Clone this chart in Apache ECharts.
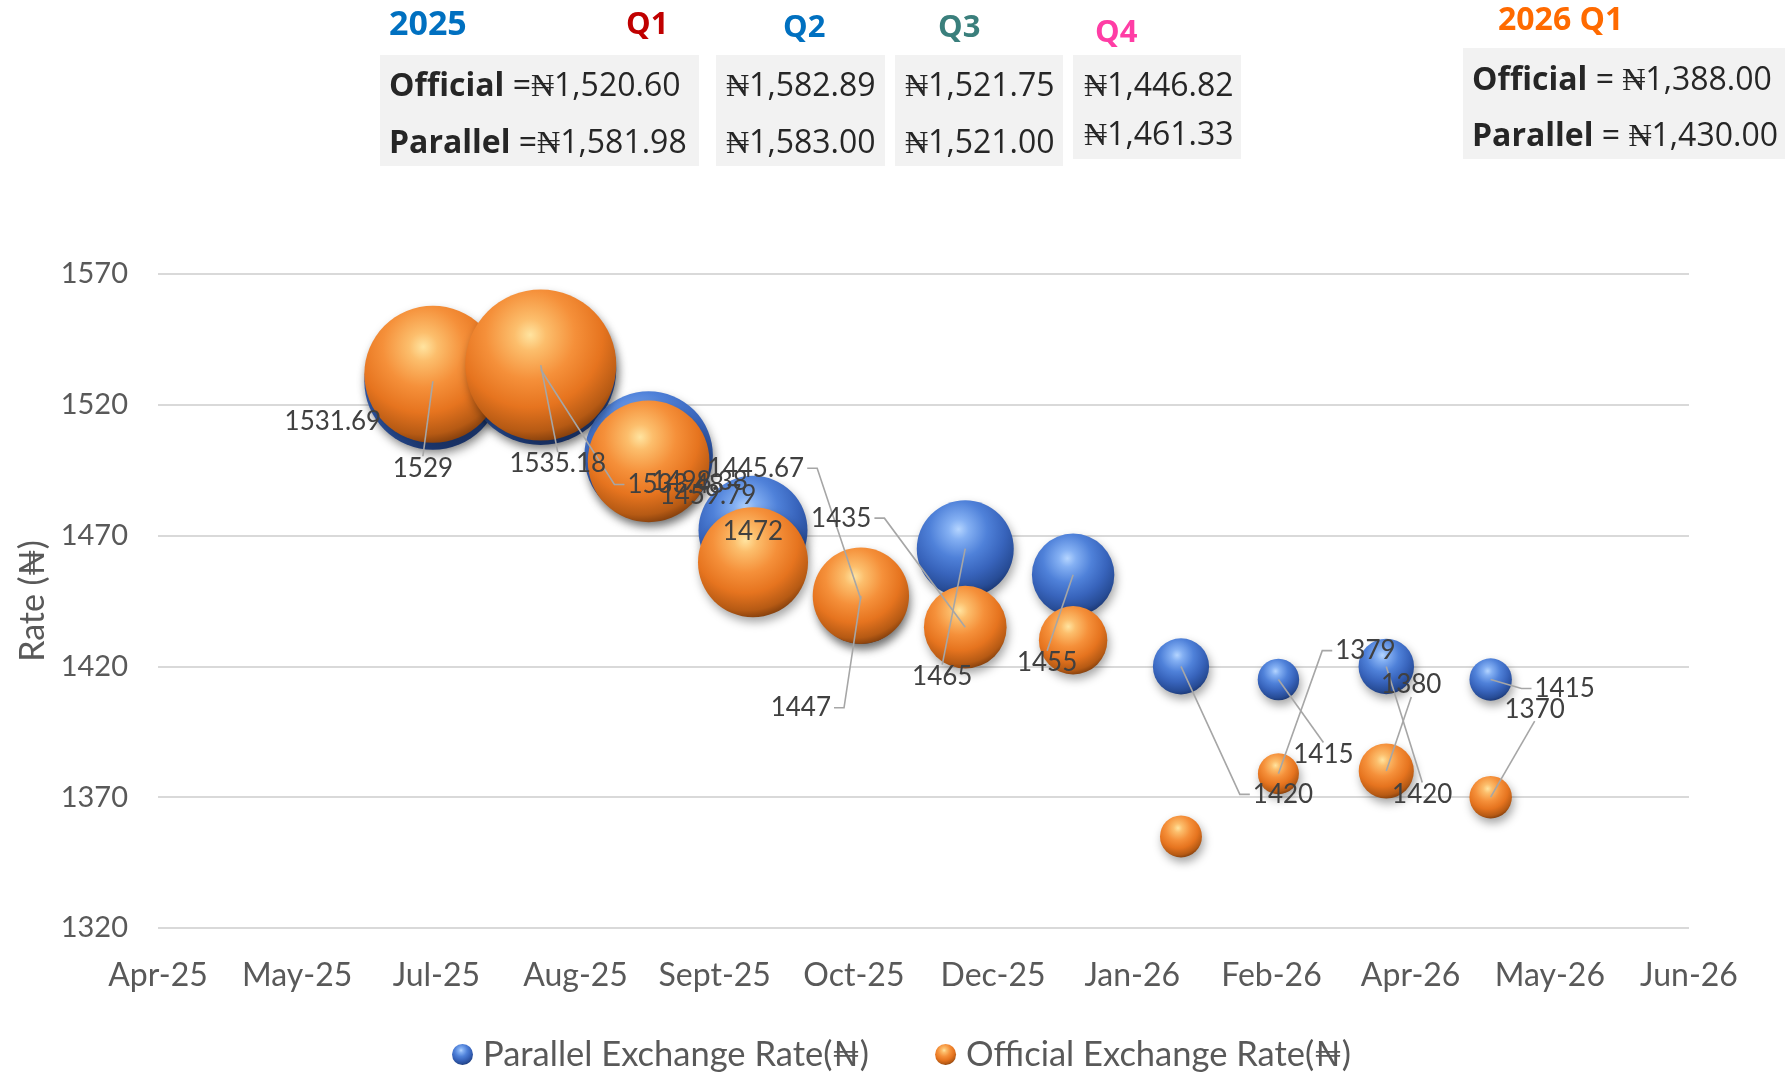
<!DOCTYPE html>
<html><head><meta charset="utf-8">
<style>html,body{margin:0;padding:0;background:#fff;} #chart{width:1785px;height:1073px;}</style>
<script src="https://cdn.jsdelivr.net/npm/echarts@6/dist/echarts.min.js"></script>
</head><body><div id="chart"></div>
<script>
// ---- data ----
const tickLabels = ['Apr-25','May-25','Jul-25','Aug-25','Sept-25','Oct-25','Dec-25','Jan-26','Feb-26','Apr-26','May-26','Jun-26'];
const axisStart = '2025-04-13';
const tickDays = 40;
const dates = ['2025-07-01','2025-08-01','2025-09-01','2025-10-01','2025-11-01','2025-12-01','2026-01-01','2026-02-01','2026-03-01','2026-04-01','2026-05-01'];
const parallelRate = [1529, 1533.48, 1500.6, 1472, 1445.67, 1465, 1455, 1420, 1415, 1420, 1415];
const officialRate = [1531.69, 1535.18, 1498.38, 1459.79, 1447, 1435, 1430, 1355, 1379, 1380, 1370];
const parallelSize = [47, 57, 41.3, 29.7, 20, 23.5, 17, 7.9, 4.3, 7.7, 4.5];
const officialSize = [47, 57, 37, 30.25, 23.2, 17.1, 11.7, 4.4, 4.2, 7.6, 4.5];
const parallelLabelled = [1,1,0,1,1,1,1,1,1,1,1];
const officialLabelled = [1,1,1,1,1,1,0,0,1,1,1];
const yTicks = {min:1320, max:1570, step:50};

const quarterHeads = ['Q1','Q2','Q3','Q4'];
const official2025 = ['₦1,520.60','₦1,582.89','₦1,521.75','₦1,446.82'];
const parallel2025 = ['₦1,581.98','₦1,583.00','₦1,521.00','₦1,461.33'];
const official2026Q1 = '₦1,388.00';
const parallel2026Q1 = '₦1,430.00';

// ---- label placement (styling, px offsets from bubble centre) ----
const parallelLeader = [1,1,0,0,1,1,1,1,1,1,1];
const officialLeader = [0,1,0,0,1,1,0,0,1,1,1];
const parallelShift = [[-10,87],[135,115],null,[0,1],[-105,-131],[-23,128],[-26,88],[102,128],[45,75],[36,128],[74,9]];
const officialShift = [[-100,47],[17,99],[51,20],[-45,-67],[-60,112],[-124,-109],null,null,[87,-123],[25,-86],[44,-88]];

function dayOffset(d){ return (Date.parse(d) - Date.parse(axisStart)) / 86400000; }

const orangeGrad = {type:'radial', x:0.43, y:0.3, r:0.8, colorStops:[
  {offset:0, color:'#FFE4A0'},{offset:0.13, color:'#FCBE6C'},{offset:0.37, color:'#F5903A'},
  {offset:0.6, color:'#E6741F'},{offset:0.8, color:'#B65A14'},{offset:1, color:'#4A2004'}]};
const blueGrad = {type:'radial', x:0.43, y:0.3, r:0.8, colorStops:[
  {offset:0, color:'#B5D5FF'},{offset:0.13, color:'#84B0F3'},{offset:0.37, color:'#4F81D9'},
  {offset:0.6, color:'#3864BC'},{offset:0.8, color:'#274C96'},{offset:1, color:'#0E2150'}]};

const LABEL_FONT = 26;
const measureCtx = document.createElement('canvas').getContext('2d');
function textWidth(t){ measureCtx.font = LABEL_FONT + 'px Lato'; return measureCtx.measureText(t).width; }

function bubbleSeries(name, rates, sizes, grad){
  return {
    name: name, type:'scatter', z:2,
    data: dates.map((d,i)=>[dayOffset(d), rates[i], sizes[i]]),
    symbolSize: v => Math.sqrt(v[2]) * 20,
    itemStyle:{color: grad, opacity:1, shadowBlur:10, shadowColor:'rgba(0,0,0,0.35)', shadowOffsetX:2, shadowOffsetY:5},
    emphasis:{disabled:true}
  };
}

function labelSeries(name, rates, lbl, leader, shifts){
  return {
    name: name, type:'custom', z:10, silent:true, clip:false,
    data: dates.map((d,i)=>[dayOffset(d), rates[i]]),
    renderItem: function(params, api){
      const i = params.dataIndex;
      const s = shifts[i];
      if (!lbl[i] || !s) return {type:'group', children:[]};
      const c = api.coord([api.value(0), api.value(1)]);
      const text = String(api.value(1));
      const w = textWidth(text), h = LABEL_FONT;
      const mx = c[0] + s[0], my = c[1] + s[1];
      const lx = mx - w/2, ly = my - h/2;
      const children = [];
      if (leader[i]) {
        const cx = c[0], cy = c[1];
        const gapX = cx < lx ? lx - cx : (cx > lx + w ? cx - lx - w : 0);
        let pts;
        if (gapX > 20) {
          const ex = cx < lx ? lx - 3 : lx + w + 3;
          const sx = cx < lx ? ex - 10 : ex + 10;
          pts = [[cx, cy], [sx, my], [ex, my]];
        } else {
          const ey = cy < ly ? ly + 1 : ly + h - 1;
          pts = [[cx, cy], [mx, ey]];
        }
        children.push({type:'polyline', shape:{points:pts}, style:{stroke:'#A6A6A6', lineWidth:1.6, fill:null}});
      }
      children.push({type:'text', x:mx, y:my, style:{text:text, fill:'#404040', fontFamily:'Lato', fontSize:LABEL_FONT,
        align:'center', verticalAlign:'middle'}});
      return {type:'group', children:children};
    }
  };
}

const txtFont = 'Open Sans';
const graphic = [];
const boxes = [[380,55,319,111],[716,55,169,111],[895,55,168,111],[1073,55,168,104],[1463,48,322,111]];
boxes.forEach(b => graphic.push({type:'rect', shape:{x:b[0], y:b[1], width:b[2], height:b[3]}, style:{fill:'#F2F2F2'}, z:0}));
function head(text, x, y, color, size){
  graphic.push({type:'text', x:x, y:y, style:{text:text, fill:color, fontFamily:txtFont, fontWeight:'bold', fontSize:size, verticalAlign:'middle'}, z:2});
}
function body(text, x, y){
  graphic.push({type:'text', x:x, y:y, style:{text:text, fill:'#262626', fontFamily:txtFont, fontSize:32, verticalAlign:'middle',
    rich:{b:{fontWeight:'bold', fontFamily:txtFont, fontSize:32, fill:'#262626'}}}, z:2});
}
head('2025', 389, 25, '#0070C0', 34);
const qColors = ['#C00000','#0070C0','#3A7F7C','#FF3DA5'];
const qX = [626,783,938,1095], qY = [25,28,28,33];
quarterHeads.forEach((q,i)=> head(q, qX[i], qY[i], qColors[i], 31));
head('2026 Q1', 1498, 21, '#FF6A00', 32);
const bodyX = [389,726,905,1084];
const line2Y = [144,144,144,136];
official2025.forEach((v,i)=> body(i===0 ? '{b|Official} =' + v : v, bodyX[i], 87));
parallel2025.forEach((v,i)=> body(i===0 ? '{b|Parallel} =' + v : v, bodyX[i], line2Y[i]));
body('{b|Official} = ' + official2026Q1, 1472, 81);
body('{b|Parallel} = ' + parallel2026Q1, 1472, 137);

const chart = echarts.init(document.getElementById('chart'), null, {renderer:'canvas'});
chart.setOption({
  backgroundColor:'#ffffff',
  animation:false,
  grid:{left:158, right:96, top:274, bottom:145},
  xAxis:{type:'value', min:0, max:(tickLabels.length-1)*tickDays, interval:tickDays,
    axisLine:{show:false}, axisTick:{show:false}, splitLine:{show:false},
    axisLabel:{margin:32, color:'#595959', fontFamily:'Lato', fontSize:32,
      formatter: v => tickLabels[Math.round(v/tickDays)] || ''}},
  yAxis:{type:'value', min:yTicks.min, max:yTicks.max, interval:yTicks.step,
    name:'Rate (₦)', nameLocation:'middle', nameGap:106,
    nameTextStyle:{color:'#595959', fontFamily:'Lato', fontSize:34},
    axisLine:{show:false}, axisTick:{show:false},
    splitLine:{lineStyle:{color:'#D9D9D9', width:2}},
    axisLabel:{margin:30, color:'#595959', fontFamily:'Lato', fontSize:29, formatter: v => String(v)}},
  legend:{bottom:-4, left:447, itemGap:66, icon:'circle', itemWidth:21, itemHeight:21,
    textStyle:{color:'#595959', fontFamily:'Lato', fontSize:34.5, padding:[0,0,0,5]},
    data:['Parallel Exchange Rate(₦)','Official Exchange Rate(₦)']},
  graphic: graphic,
  series:[
    bubbleSeries('Parallel Exchange Rate(₦)', parallelRate, parallelSize, blueGrad),
    bubbleSeries('Official Exchange Rate(₦)', officialRate, officialSize, orangeGrad),
    labelSeries('Parallel labels', parallelRate, parallelLabelled, parallelLeader, parallelShift),
    labelSeries('Official labels', officialRate, officialLabelled, officialLeader, officialShift)
  ]
});
</script></body></html>
